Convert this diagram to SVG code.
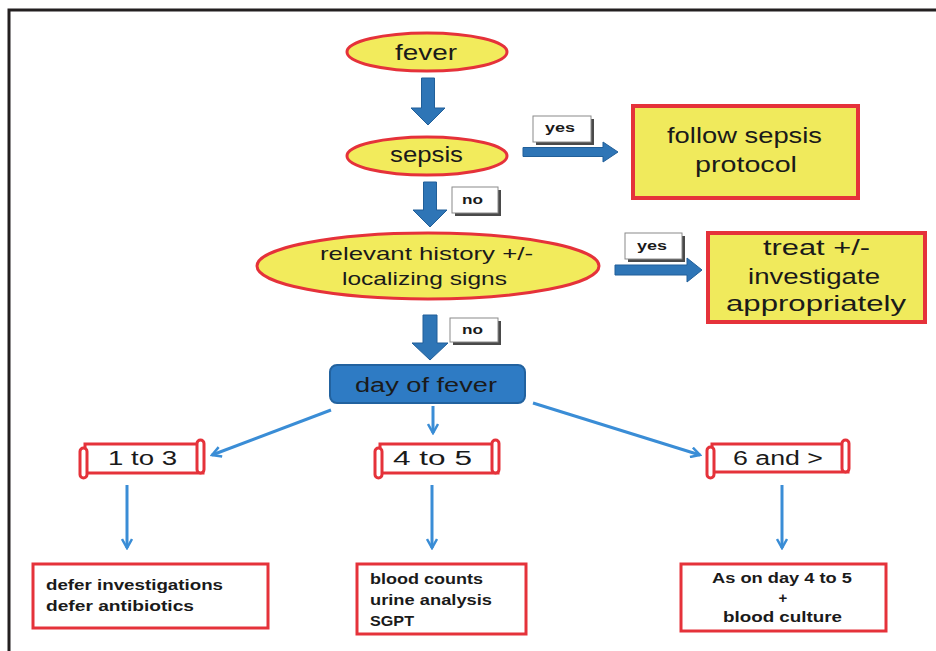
<svg xmlns="http://www.w3.org/2000/svg" width="936" height="651" viewBox="0 0 936 651">
<style>
.frame{fill:none;stroke:#231f20;stroke-width:3}
.ell{fill:#f2eb5c;stroke:#e5323a;stroke-width:3}
.ybox{fill:#f0ea5c;stroke:#e5323a;stroke-width:4}
.wbox{fill:#fff;stroke:#e5323a;stroke-width:3}
.scr{fill:#fff;stroke:#e5323a;stroke-width:3}
.blk{fill:#2e75b6;stroke:#215f99;stroke-width:1}
.thin{fill:none;stroke:#3a8dd6;stroke-width:3;marker-end:url(#ah)}
.lbl{fill:#fff;stroke:#8a8a8a;stroke-width:1}
.sh{fill:#4a4a4a}
.day{fill:#2e7bc4;stroke:#22629f;stroke-width:2}
text{font-family:"Liberation Sans",Arial,sans-serif;fill:#1a1a1a}
.t22{font-size:22px}
.t20{font-size:20px}
.t18{font-size:19px}
.tl{font-size:13px;font-weight:bold}
.tb{font-size:15px;font-weight:bold}
</style>
<defs>
<marker id="ah" viewBox="0 0 12 12" markerWidth="12" markerHeight="12" refX="10" refY="6" orient="auto" markerUnits="userSpaceOnUse">
<path d="M1,1 L10,6 L1,11" fill="none" stroke="#3a8dd6" stroke-width="2.5"/>
</marker>
</defs>
<path class="frame" d="M9,651 V10 H936"/>

<g id="connectors">
<polygon class="blk" points="421.5,78 434.5,78 434.5,108 445,108 428,125 411,108 421.5,108"/>
<polygon class="blk" points="423.5,182 436.5,182 436.5,210 447,210 430,227 413,210 423.5,210"/>
<polygon class="blk" points="423,315 437,315 437,343 448,343 430,360 412,343 423,343"/>
<polygon class="blk" points="523,147.5 603,147.5 603,142 618,152 603,162 603,156.5 523,156.5"/>
<polygon class="blk" points="615,265 687,265 687,258 702,270 687,282 687,275 615,275"/>
<line class="thin" x1="331" y1="410" x2="212" y2="455"/>
<line class="thin" x1="433" y1="406" x2="433" y2="433"/>
<line class="thin" x1="533" y1="403" x2="700" y2="455"/>
<line class="thin" x1="127" y1="485" x2="127" y2="548"/>
<line class="thin" x1="432" y1="485" x2="432" y2="548"/>
<line class="thin" x1="782" y1="485" x2="782" y2="548"/>
</g>

<g id="label-yes1">
<rect class="sh" x="536" y="119" width="58" height="26"/>
<rect class="lbl" x="533" y="116" width="58" height="26"/>
<text class="tl" x="545" y="132" textLength="30" lengthAdjust="spacingAndGlyphs">yes</text>
</g>
<g id="label-no1">
<rect class="sh" x="455" y="190" width="46" height="26"/>
<rect class="lbl" x="452" y="187" width="46" height="26"/>
<text class="tl" x="462" y="204" textLength="21" lengthAdjust="spacingAndGlyphs">no</text>
</g>
<g id="label-no2">
<rect class="sh" x="453" y="321" width="48" height="24"/>
<rect class="lbl" x="450" y="318" width="48" height="24"/>
<text class="tl" x="462" y="334" textLength="21" lengthAdjust="spacingAndGlyphs">no</text>
</g>
<g id="label-yes2">
<rect class="sh" x="628" y="236" width="57" height="26"/>
<rect class="lbl" x="625" y="233" width="57" height="26"/>
<text class="tl" x="637" y="250" textLength="30" lengthAdjust="spacingAndGlyphs">yes</text>
</g>

<g id="fever">
<ellipse class="ell" cx="427" cy="52" rx="80" ry="19"/>
<text class="t22" x="395" y="60" textLength="62" lengthAdjust="spacingAndGlyphs">fever</text>
</g>
<g id="sepsis">
<ellipse class="ell" cx="427" cy="156" rx="80" ry="19"/>
<text class="t22" x="390" y="162" textLength="73" lengthAdjust="spacingAndGlyphs">sepsis</text>
</g>
<g id="sepsis-protocol">
<rect class="ybox" x="633" y="106" width="225" height="92"/>
<text class="t22" x="667" y="143" textLength="155" lengthAdjust="spacingAndGlyphs">follow sepsis</text>
<text class="t22" x="695" y="172" textLength="102" lengthAdjust="spacingAndGlyphs">protocol</text>
</g>
<g id="history">
<ellipse class="ell" cx="428" cy="266" rx="171" ry="33"/>
<text class="t18" x="320" y="260" textLength="213" lengthAdjust="spacingAndGlyphs">relevant history +/-</text>
<text class="t18" x="342" y="285" textLength="165" lengthAdjust="spacingAndGlyphs">localizing signs</text>
</g>
<g id="treat">
<rect class="ybox" x="708" y="233" width="217" height="89"/>
<text class="t22" x="763" y="255" textLength="107" lengthAdjust="spacingAndGlyphs">treat +/-</text>
<text class="t22" x="748" y="284" textLength="132" lengthAdjust="spacingAndGlyphs">investigate</text>
<text class="t22" x="726" y="311" textLength="180" lengthAdjust="spacingAndGlyphs">appropriately</text>
</g>
<g id="day-of-fever">
<rect class="day" x="330" y="365" width="195" height="38" rx="7"/>
<text class="t20" x="355" y="392" textLength="142" lengthAdjust="spacingAndGlyphs">day of fever</text>
</g>

<g id="d1to3">
<rect class="scr" x="85" y="444" width="118" height="29"/>
<rect class="scr" x="197" y="440" width="7" height="33" rx="3.5"/>
<rect class="scr" x="80" y="448" width="7" height="30" rx="3.5"/>
<text class="t20" x="108" y="465" textLength="69" lengthAdjust="spacingAndGlyphs">1 to 3</text>
</g>
<g id="d4to5">
<rect class="scr" x="380" y="444" width="118" height="29"/>
<rect class="scr" x="492" y="440" width="7" height="33" rx="3.5"/>
<rect class="scr" x="375" y="448" width="7" height="30" rx="3.5"/>
<text class="t20" x="393" y="465" textLength="79" lengthAdjust="spacingAndGlyphs">4 to 5</text>
</g>
<g id="d6plus">
<rect class="scr" x="712" y="444" width="136" height="28"/>
<rect class="scr" x="842" y="440" width="7" height="32" rx="3.5"/>
<rect class="scr" x="707" y="447" width="7" height="31" rx="3.5"/>
<text class="t20" x="733" y="465" textLength="90" lengthAdjust="spacingAndGlyphs">6 and &gt;</text>
</g>

<g id="defer">
<rect class="wbox" x="33" y="564" width="235" height="64"/>
<text class="tb" x="46" y="590" textLength="177" lengthAdjust="spacingAndGlyphs">defer investigations</text>
<text class="tb" x="46" y="611" textLength="148" lengthAdjust="spacingAndGlyphs">defer antibiotics</text>
</g>
<g id="tests">
<rect class="wbox" x="357" y="564" width="169" height="70"/>
<text class="tb" x="370" y="584" textLength="113" lengthAdjust="spacingAndGlyphs">blood counts</text>
<text class="tb" x="370" y="605" textLength="122" lengthAdjust="spacingAndGlyphs">urine analysis</text>
<text class="tb" x="370" y="626" textLength="44" lengthAdjust="spacingAndGlyphs">SGPT</text>
</g>
<g id="culture">
<rect class="wbox" x="681" y="564" width="205" height="67"/>
<text class="tb" x="712" y="583" textLength="140" lengthAdjust="spacingAndGlyphs">As on day 4 to 5</text>
<text class="tb" x="783" y="603" text-anchor="middle">+</text>
<text class="tb" x="723" y="622" textLength="119" lengthAdjust="spacingAndGlyphs">blood culture</text>
</g>
</svg>
